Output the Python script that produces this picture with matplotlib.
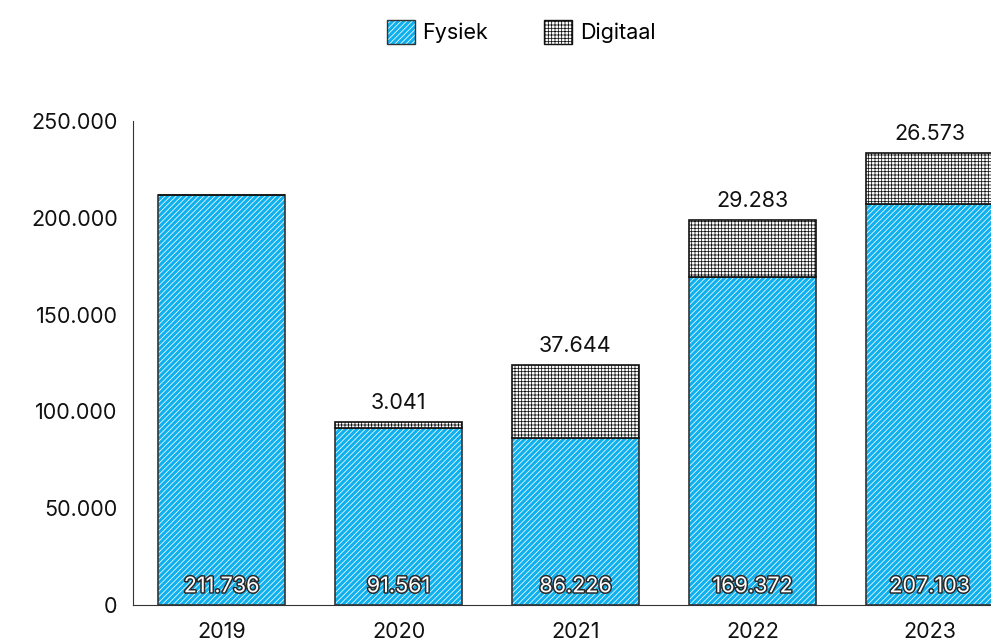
import matplotlib
matplotlib.use('Agg')
import matplotlib.pyplot as plt
import matplotlib.patheffects as pe
from matplotlib.patches import Patch
import numpy as np

plt.rcParams['font.family'] = ['Inter', 'DejaVu Sans']
plt.rcParams['hatch.linewidth'] = 0.55

# data
jaren = ['2019', '2020', '2021', '2022', '2023']
fysiek = [211736, 91561, 86226, 169372, 207103]
digitaal = [0, 3041, 37644, 29283, 26573]
fysiek_labels = ['211.736', '91.561', '86.226', '169.372', '207.103']
digitaal_labels = ['', '3.041', '37.644', '29.283', '26.573']
y_ticks = [0, 50000, 100000, 150000, 200000, 250000]
y_ticklabels = ['0', '50.000', '100.000', '150.000', '200.000', '250.000']

blauw = '#0fb0ee'
rand = '#333333'
fs = 15.5

fig = plt.figure(figsize=(9.91, 6.43), dpi=100)
ax = fig.add_axes([133 / 991, 38 / 643, 885 / 991, 484 / 643])

x = np.arange(len(jaren))
w = 0.72

# fysiek: blauw met witte arcering, daarna de rand apart
ax.bar(x, fysiek, w, color=blauw, edgecolor='white', hatch='//////', linewidth=0)
ax.bar(x, fysiek, w, fill=False, edgecolor=rand, linewidth=1.2)
# digitaal: wit met zwart raster
ax.bar(x, digitaal, w, bottom=fysiek, color='white', edgecolor='#111111',
       hatch='+++++', linewidth=1.2)

for i in range(len(jaren)):
    ax.annotate(fysiek_labels[i], (x[i], 0), xytext=(0, 13.5),
                textcoords='offset points', ha='center', va='center',
                color='white', fontsize=fs,
                path_effects=[pe.withStroke(linewidth=2.2, foreground='#2a2a2a')])
    if digitaal_labels[i]:
        ax.annotate(digitaal_labels[i], (x[i], fysiek[i] + digitaal[i]),
                    xytext=(0, 6.5), textcoords='offset points',
                    ha='center', va='bottom', color='#111111', fontsize=fs)

ax.set_xlim(-0.5, 4.5)
ax.set_ylim(0, 250000)
ax.set_xticks(x)
ax.set_xticklabels(jaren, fontsize=fs, color='#111111')
ax.set_yticks(y_ticks)
ax.set_yticklabels(y_ticklabels, fontsize=fs, color='#111111')
ax.tick_params(axis='x', length=0, pad=12.5)
ax.tick_params(axis='y', length=0, pad=11)
ax.spines['top'].set_visible(False)
ax.spines['right'].set_visible(False)
ax.spines['left'].set_color(rand)
ax.spines['bottom'].set_color(rand)
ax.set_axisbelow(False)

h_fys = (Patch(facecolor=blauw, edgecolor='white', hatch='//////', linewidth=0),
         Patch(fill=False, edgecolor=rand, linewidth=1.0))
h_dig = Patch(facecolor='white', edgecolor='#111111', hatch='+++++', linewidth=1.0)
fig.legend([h_fys, h_dig], ['Fysiek', 'Digitaal'], loc='center',
           bbox_to_anchor=(0.526, 1 - 32 / 643), ncol=2, frameon=False,
           fontsize=fs, handlelength=1.3, handleheight=1.3,
           handletextpad=0.35, columnspacing=2.6)

plt.savefig('out.png', dpi=100)
